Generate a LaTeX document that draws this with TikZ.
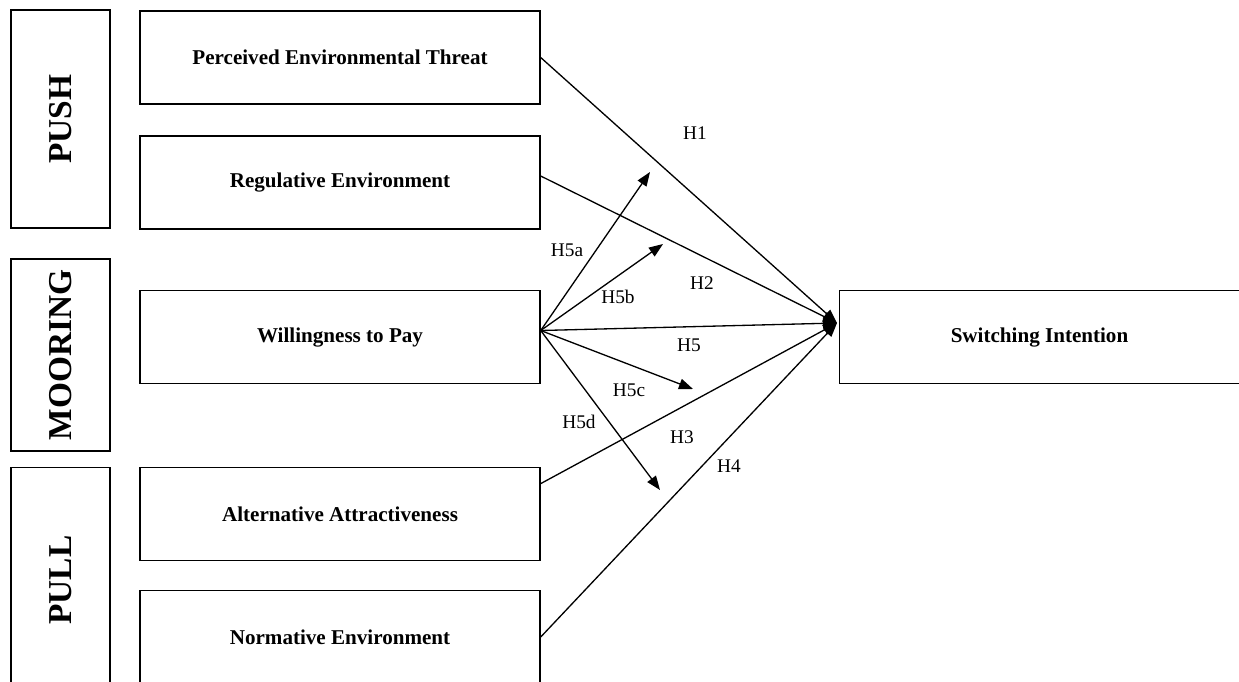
\documentclass[tikz,border=0pt]{standalone}
\usepackage{fontspec}
\setmainfont{Liberation Serif}
\usetikzlibrary{arrows.meta}
\begin{document}
\begin{tikzpicture}[x=0.02cm,y=-0.02cm,line width=0.75pt,
box/.style={draw,line width=0.85pt,minimum width=8cm,minimum height=1.86cm,inner sep=0,font=\fontsize{12}{14}\selectfont\bfseries},
side/.style={draw,line width=0.85pt,rotate=90,minimum height=1.98cm,inner sep=0,font=\fontsize{19}{23}\selectfont\bfseries},
hyp/.style={font=\fontsize{11}{13}\selectfont,inner sep=0},
tip/.style={-{Triangle[length=8pt,width=6pt]}}]
\clip(0,0)rectangle(1239,681);
\node[side,minimum width=4.36cm](push)at(60.5,119){PUSH};
\node[side,minimum width=3.84cm](moor)at(60.5,355){MOORING};
\node[side,minimum width=4.5cm](pull)at(60.5,580){PULL};
\node[box](pet)at(340,57.5){Perceived Environmental Threat};
\node[box](reg)at(340,182.5){Regulative Environment};
\node[box](wtp)at(340,337){Willingness to Pay};
\node[box](alt)at(340,514){Alternative Attractiveness};
\node[box](nor)at(340,637){Normative Environment};
\node[box](si)at(1039.5,337){Switching Intention};
\coordinate(c)at(837,323);
\coordinate(w)at([yshift=3.7pt]wtp.east);
\foreach \n/\p in {h5a/{650,172},h5b/{663,244},h5c/{693,389},h5d/{660,490}}\coordinate(\n)at(\p);
\draw[tip](pet.east)--(c);\draw[tip]([yshift=3.7pt]reg.east)--(c);\draw[tip](w)--(c);
\draw[tip]([yshift=17.3pt]alt.east)--(c);\draw[tip](nor.east)--(c);
\foreach \n in {h5a,h5b,h5c,h5d}\draw[tip](w)--(\n);
\foreach \n/\p/\t in {l1/{695,133}/H1,l2/{702,283}/H2,l5/{689,345}/H5,l3/{682,437}/H3,l4/{729,466}/H4,
l5a/{567,250}/H5a,l5b/{618,297}/H5b,l5c/{629,390}/H5c,l5d/{579,422}/H5d}\node[hyp](\n)at(\p){\t};
\end{tikzpicture}
\end{document}
